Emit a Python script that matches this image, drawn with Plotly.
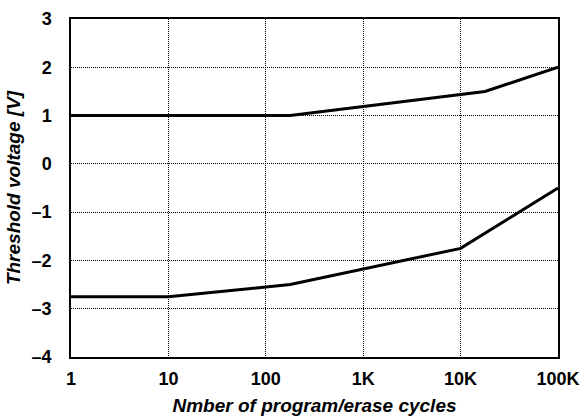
import plotly.graph_objects as go

# Program/erase endurance: threshold voltage of programmed and erased states
cycles_prog = [1, 178, 17800, 100000]
vth_prog = [1.0, 1.0, 1.5, 2.0]

cycles_erase = [1, 10, 178, 10000, 100000]
vth_erase = [-2.75, -2.75, -2.5, -1.75, -0.5]

x_tickvals = [1, 10, 100, 1000, 10000, 100000]
x_ticktext = ["1", "10", "100", "1K", "10K", "100K"]
y_tickvals = [-4, -3, -2, -1, 0, 1, 2, 3]
y_ticktext = ["\u20134", "\u20133", "\u20132", "\u20131", "0", "1", "2", "3"]

fig = go.Figure()
for xs, ys in ((cycles_prog, vth_prog), (cycles_erase, vth_erase)):
    fig.add_trace(go.Scatter(x=xs, y=ys, mode="lines",
                             line=dict(color="black", width=3),
                             showlegend=False))

font_family = "Liberation Sans, Arial, Helvetica, sans-serif"

fig.update_layout(
    width=585, height=417,
    margin=dict(l=71, r=27, t=19, b=60),
    paper_bgcolor="white", plot_bgcolor="white",
    font=dict(family=font_family, color="black"),
)
fig.update_xaxes(
    type="log", range=[0, 5], automargin=False,
    tickvals=x_tickvals, ticktext=x_ticktext,
    tickfont=dict(size=18, family=font_family, weight="bold"),
    ticks="", ticklabelstandoff=5,
    showline=True, linecolor="black", linewidth=1.5, mirror=True,
    showgrid=True, gridcolor="black", gridwidth=1, griddash="1px,1px",
    zeroline=False,
    title=dict(text="<b><i>Nmber of program/erase cycles</i></b>",
               font=dict(size=19, family=font_family), standoff=10),
)
fig.update_yaxes(
    range=[-4, 3], automargin=False,
    tickvals=y_tickvals, ticktext=y_ticktext,
    tickfont=dict(size=18, family=font_family, weight="bold"),
    ticks="", ticklabelstandoff=14,
    showline=True, linecolor="black", linewidth=1.5, mirror=True,
    showgrid=True, gridcolor="black", gridwidth=1, griddash="1px,1px",
    zeroline=False,
    title=dict(text="<b><i>Threshold voltage [V]</i></b>",
               font=dict(size=19, family=font_family), standoff=6),
)

fig.write_html("out.html")
